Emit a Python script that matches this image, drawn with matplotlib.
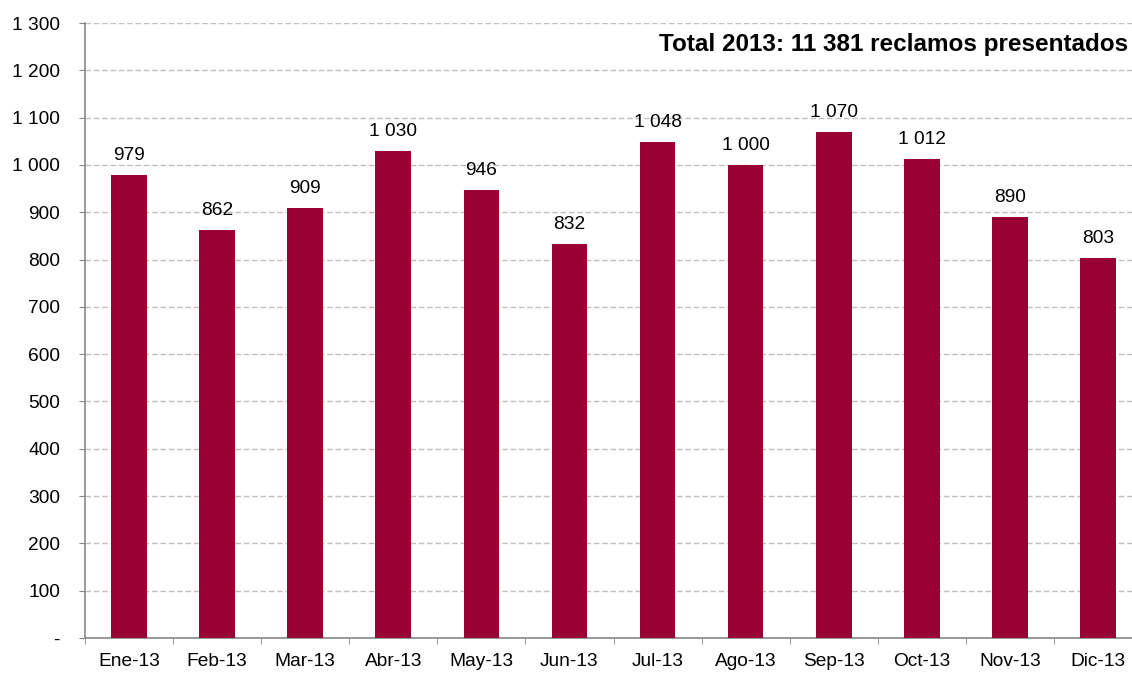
import matplotlib.pyplot as plt
from matplotlib.ticker import FuncFormatter, FixedLocator

meses = ["Ene-13", "Feb-13", "Mar-13", "Abr-13", "May-13", "Jun-13",
         "Jul-13", "Ago-13", "Sep-13", "Oct-13", "Nov-13", "Dic-13"]
reclamos = [979, 862, 909, 1030, 946, 832, 1048, 1000, 1070, 1012, 890, 803]
titulo = "Total 2013: 11 381 reclamos presentados"


def miles(v):
    v = int(round(v))
    if v == 0:
        return "-"
    return f"{v:,}".replace(",", " ")


plt.rcParams['font.family'] = ['Liberation Sans', 'DejaVu Sans']
plt.rcParams['font.size'] = 13.8

fig = plt.figure(figsize=(11.32, 6.75), dpi=100)
ax = fig.add_axes([85 / 1132, 1 - 638 / 675, (1142 - 85) / 1132, (638 - 23) / 675])

x = list(range(len(meses)))
ax.bar(x, reclamos, width=0.405, color="#990033", zorder=3)

for xi, v in zip(x, reclamos):
    ax.annotate(miles(v), (xi, v), xytext=(0, 8), textcoords="offset points",
                ha="center", va="bottom", fontsize=13.8)

ax.set_xlim(-0.5, len(meses) - 0.5)
ax.set_ylim(0, 1300)
ax.set_yticks(range(0, 1301, 100))
ax.yaxis.set_major_formatter(FuncFormatter(lambda v, p: miles(v)))

ax.set_xticks(x)
ax.set_xticklabels(meses)
ax.xaxis.set_minor_locator(FixedLocator([i + 0.5 for i in range(-1, len(meses))]))
ax.tick_params(axis="x", which="major", length=0, pad=11)
ax.tick_params(axis="x", which="minor", length=4, color="#888888", direction="out")
ax.tick_params(axis="y", length=4, color="#888888", direction="out", pad=14)
for lbl in ax.get_yticklabels():
    lbl.set_horizontalalignment("right")

ax.grid(axis="y", linestyle=(0, (4, 2)), color="#bfbfbf", linewidth=1, zorder=0)
for s in ["top", "right"]:
    ax.spines[s].set_visible(False)
for s in ["left", "bottom"]:
    ax.spines[s].set_color("#888888")
    ax.spines[s].set_linewidth(1.2)

fig.text(1128 / 1132, 1 - 45 / 675, titulo, ha="right", va="center",
         fontsize=17.5, fontweight="bold")

fig.savefig("out.png", dpi=100)
